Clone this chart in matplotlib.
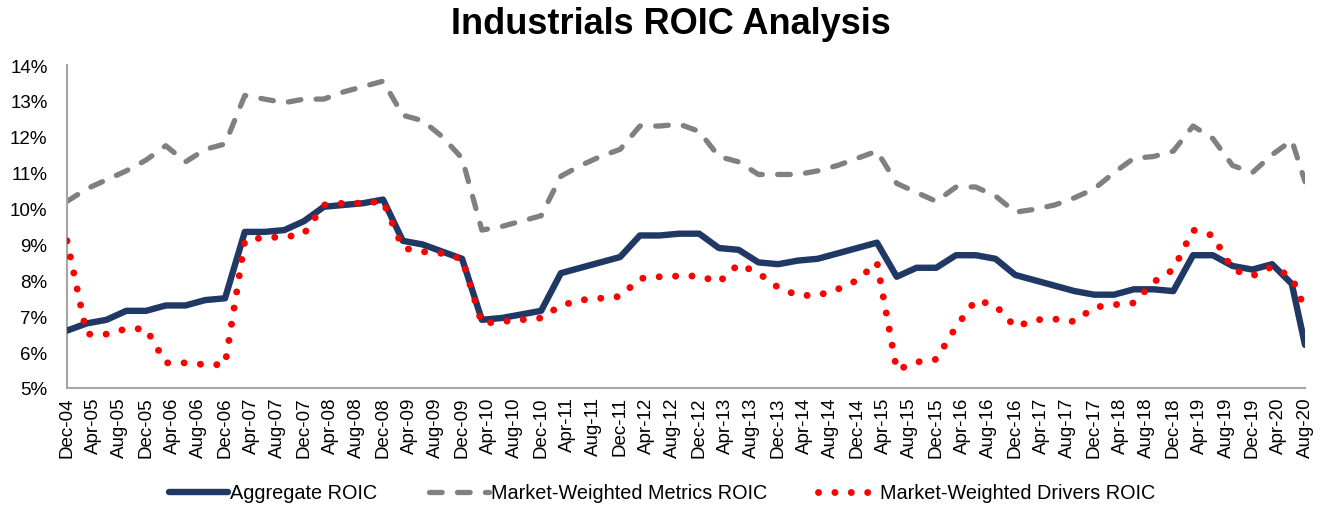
import matplotlib
matplotlib.use("Agg")
import matplotlib.pyplot as plt
from matplotlib.ticker import FixedLocator, FuncFormatter
import pandas as pd

# quarter-end observations Dec-04 .. Jun-20, plus the latest point Aug-20
obs_months = list(pd.period_range("2004-12", "2020-06", freq="M")[::3]) + [pd.Period("2020-08", "M")]
tick_months = list(pd.period_range("2004-12", "2020-08", freq="M")[::4])

aggregate_roic = [
    6.6, 6.8, 6.9, 7.15, 7.15, 7.3, 7.3, 7.45, 7.5,
    9.35, 9.35, 9.4, 9.65, 10.05, 10.1, 10.15, 10.25,
    9.1, 9.0, 8.8, 8.6, 6.9, 6.95, 7.05, 7.15,
    8.2, 8.35, 8.5, 8.65, 9.25, 9.25, 9.3, 9.3,
    8.9, 8.85, 8.5, 8.45, 8.55, 8.6, 8.75, 8.9,
    9.05, 8.1, 8.35, 8.35, 8.7, 8.7, 8.6, 8.15,
    8.0, 7.85, 7.7, 7.6, 7.6, 7.75, 7.75, 7.7,
    8.7, 8.7, 8.4, 8.3, 8.45, 7.9, 6.2,
]
metrics_roic = [
    10.2, 10.55, 10.8, 11.05, 11.35, 11.75, 11.3, 11.65, 11.8,
    13.15, 13.05, 12.95, 13.05, 13.05, 13.25, 13.4, 13.55,
    12.6, 12.45, 12.0, 11.4, 9.4, 9.5, 9.65, 9.8,
    10.9, 11.2, 11.45, 11.65, 12.3, 12.3, 12.35, 12.15,
    11.45, 11.3, 10.95, 10.95, 10.95, 11.05, 11.2, 11.4,
    11.6, 10.7, 10.45, 10.2, 10.6, 10.6, 10.35, 9.9,
    9.98, 10.1, 10.3, 10.55, 11.0, 11.4, 11.45, 11.6,
    12.3, 11.95, 11.2, 11.0, 11.5, 11.9, 10.75,
]
drivers_roic = [
    9.1, 6.5, 6.5, 6.65, 6.65, 5.7, 5.7, 5.65, 5.65,
    9.1, 9.2, 9.2, 9.3, 10.1, 10.15, 10.15, 10.2,
    8.9, 8.8, 8.75, 8.6, 6.8, 6.85, 6.9, 6.95,
    7.3, 7.45, 7.5, 7.55, 8.05, 8.1, 8.12, 8.12,
    7.95, 8.45, 8.2, 7.8, 7.58, 7.58, 7.75, 8.0,
    8.5, 5.5, 5.72, 5.8, 6.7, 7.45, 7.3, 6.7,
    6.9, 6.92, 6.85, 7.25, 7.32, 7.37, 7.95, 8.3,
    9.4, 9.25, 8.3, 8.12, 8.38, 8.09, 7.2,
]

plt.rcParams["font.family"] = ["Liberation Sans", "DejaVu Sans"]

start = obs_months[0]
x = [(p - start).n for p in obs_months]
xt = [(p - start).n for p in tick_months]
xt_labels = [p.strftime("%b-%y") for p in tick_months]

W, H = 1322, 510
fig = plt.figure(figsize=(W / 100, H / 100), dpi=100)
ax = fig.add_axes([67 / W, 1 - 389 / H, (1305 - 67) / W, (389 - 66) / H])

ax.plot(x, aggregate_roic, color="#1F3864", lw=4.6, solid_joinstyle="round",
        solid_capstyle="round", label="Aggregate ROIC", zorder=3)
ax.plot(x, metrics_roic, color="#808080", lw=3.8, dashes=(2.4, 2.9),
        dash_capstyle="round", dash_joinstyle="round",
        label="Market-Weighted Metrics ROIC", zorder=2)
ax.plot(x, drivers_roic, color="#FF0000", lw=5.0, dashes=(0.01, 2.35),
        dash_capstyle="round", label="Market-Weighted Drivers ROIC", zorder=4)

ax.set_xlim(0, 188)
ax.set_ylim(5, 14)
ax.xaxis.set_major_locator(FixedLocator(xt))
ax.set_xticklabels(xt_labels, rotation=90, fontsize=13.5)
ax.yaxis.set_major_locator(FixedLocator(range(5, 15)))
ax.yaxis.set_major_formatter(FuncFormatter(lambda v, _: f"{int(v)}%"))
ax.tick_params(axis="y", length=0, pad=14, labelsize=13.5)
ax.tick_params(axis="x", length=0, pad=6)

for side in ["top", "right"]:
    ax.spines[side].set_visible(False)
for side in ["left", "bottom"]:
    ax.spines[side].set_color("#A6A6A6")
    ax.spines[side].set_linewidth(1.5)

fig.text(671 / W, 1 - 25 / H, "Industrials ROIC Analysis", ha="center", va="center",
         fontsize=26, fontweight="bold")

fig.legend(loc="center", bbox_to_anchor=(662 / W, 1 - 494 / H), ncol=3, frameon=False,
           fontsize=14.3, handlelength=3.0, handletextpad=0.1, columnspacing=2.6)

fig.savefig("out.png", dpi=100)
